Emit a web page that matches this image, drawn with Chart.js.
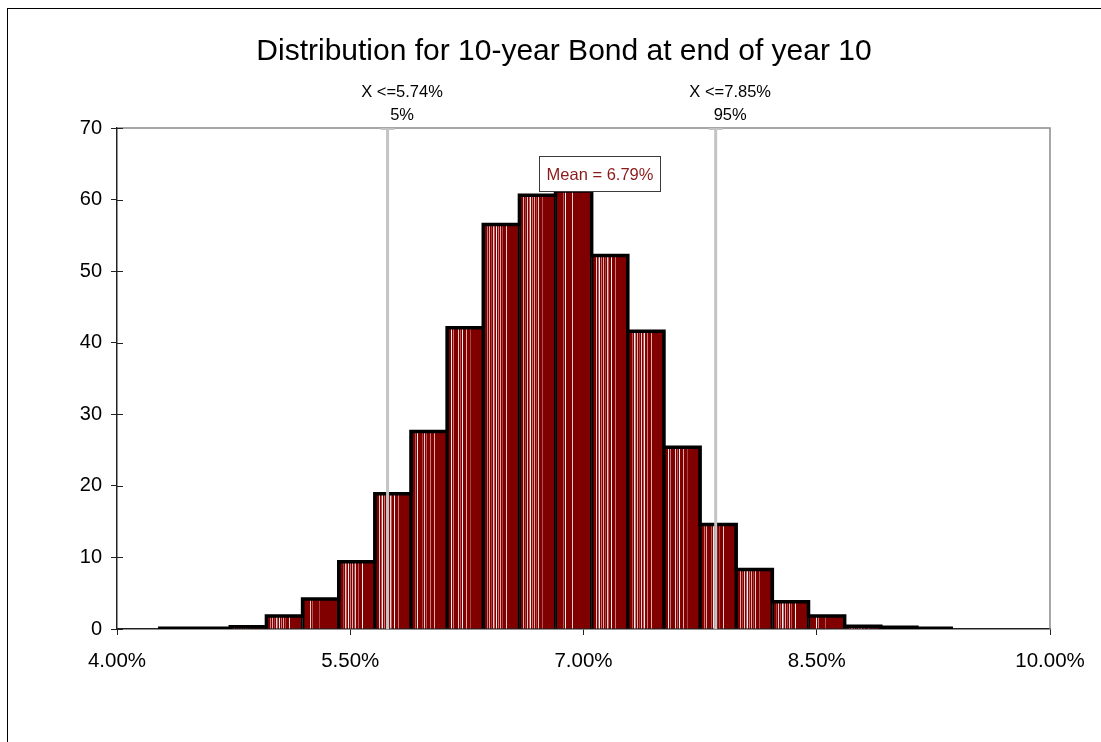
<!DOCTYPE html>
<html>
<head>
<meta charset="utf-8">
<title>Distribution for 10-year Bond at end of year 10</title>
<script src="https://cdn.jsdelivr.net/npm/chart.js@4/dist/chart.umd.min.js"></script>
<style>
  html, body { margin: 0; padding: 0; background: #ffffff; }
  canvas { display: block; }
</style>
</head>
<body>
<canvas id="chart" width="1101" height="742"></canvas>
<script>
// ---- data ----
const chartTitle = 'Distribution for 10-year Bond at end of year 10';

// histogram bin centres (yield, %)
const binCenters = [4.380, 4.612, 4.845, 5.077, 5.310, 5.542, 5.774, 6.007, 6.239, 6.472, 6.704,
                    6.936, 7.169, 7.401, 7.634, 7.866, 8.098, 8.331, 8.563, 8.796, 9.028, 9.260];
// frequency in each bin
const frequencies = [0.1, 0.1, 0.3, 1.8, 4.2, 9.4, 18.9, 27.6, 42.1, 56.5, 60.6,
                     61.2, 52.2, 41.6, 25.4, 14.6, 8.3, 3.8, 1.8, 0.4, 0.25, 0.1];

// x-axis tick values (%), y-axis range
const xTicks = [4.0, 5.5, 7.0, 8.5, 10.0];
const yRange = [0, 70];

// percentile markers
const percentileValues = [5.74, 7.85];
const percentileLabels = ['5%', '95%'];

// mean of the distribution
const meanValue = 6.79;

// ---- styling helpers ----
const FONT = "'Liberation Sans', Arial, Helvetica, sans-serif";
const BAR_RED = '#800000';
const binWidth = binCenters[1] - binCenters[0];
const stripeOffsets = [4, 6, 7.5, 9.5, 11, 13, 15, 16.5, 19, 23];
const stripeColors = ['#f0cccc', '#b45656', '#fbeeee', '#c87878', '#e4aaaa', '#a84444'];

function barFill(context) {
  const chart = context.chart;
  const xs = chart.scales && chart.scales.x;
  if (context.type !== 'data' || !xs) return BAR_RED;
  const c = binCenters[context.dataIndex];
  const x0 = xs.getPixelForValue(c - binWidth / 2);
  const x1 = xs.getPixelForValue(c + binWidth / 2);
  const w = x1 - x0;
  if (!isFinite(w) || w <= 0) return BAR_RED;
  const g = chart.ctx.createLinearGradient(x0, 0, x1, 0);
  g.addColorStop(0, BAR_RED);
  stripeOffsets.forEach((off, i) => {
    const a = off / w;
    const b = (off + 0.8) / w;
    if (b >= 1) return;
    const col = stripeColors[(i + context.dataIndex) % stripeColors.length];
    g.addColorStop(a, BAR_RED);
    g.addColorStop(a, col);
    g.addColorStop(b, col);
    g.addColorStop(b, BAR_RED);
  });
  g.addColorStop(1, BAR_RED);
  return g;
}

// histogram outline: tops of all bins joined with steps at the bin edges
const outlinePoints = [{ x: binCenters[0] - binWidth / 2, y: frequencies[0] }]
  .concat(binCenters.map((c, i) => ({ x: c, y: frequencies[i] })))
  .concat([{ x: binCenters[binCenters.length - 1] + binWidth / 2, y: frequencies[frequencies.length - 1] }]);

// ---- plugins ----
const pageFrame = {
  id: 'pageFrame',
  beforeDraw(chart) {
    const ctx = chart.ctx;
    ctx.save();
    ctx.fillStyle = '#ffffff';
    ctx.fillRect(0, 0, chart.width, chart.height);
    ctx.strokeStyle = '#000000';
    ctx.lineWidth = 1;
    ctx.strokeRect(7.5, 8.5, chart.width + 20, chart.height + 20);
    // chart heading
    ctx.fillStyle = '#000000';
    ctx.font = '30px ' + FONT;
    ctx.textAlign = 'center';
    ctx.textBaseline = 'alphabetic';
    ctx.fillText(chartTitle, 564, 60);
    ctx.restore();
  }
};

const plotBorder = {
  id: 'plotBorder',
  beforeDatasetsDraw(chart) {
    const { ctx, chartArea: a } = chart;
    ctx.save();
    ctx.strokeStyle = '#8a8a8a';
    ctx.lineWidth = 1.5;
    ctx.beginPath();
    ctx.moveTo(a.left, a.top);
    ctx.lineTo(a.right, a.top);
    ctx.lineTo(a.right, a.bottom);
    ctx.stroke();
    ctx.restore();
  },
  afterDraw(chart) {
    // tick marks crossing into the plot on the value axis
    const { ctx, chartArea: a } = chart;
    const ys = chart.scales.y;
    ctx.save();
    ctx.strokeStyle = '#222222';
    ctx.lineWidth = 1;
    ys.ticks.forEach(t => {
      const y = Math.round(ys.getPixelForValue(t.value)) + 0.5;
      ctx.beginPath();
      ctx.moveTo(a.left, y);
      ctx.lineTo(a.left + 6, y);
      ctx.stroke();
    });
    ctx.restore();
  }
};

const markers = {
  id: 'markers',
  afterDatasetsDraw(chart) {
    const { ctx, chartArea: a } = chart;
    const xs = chart.scales.x, ys = chart.scales.y;
    ctx.save();
    // percentile lines and their captions
    percentileValues.forEach((v, i) => {
      const x = xs.getPixelForValue(v);
      ctx.strokeStyle = '#c4c4c4';
      ctx.lineWidth = 3;
      ctx.beginPath();
      ctx.moveTo(x, a.top);
      ctx.lineTo(x, a.bottom);
      ctx.stroke();
      ctx.lineWidth = 2;
      ctx.beginPath();
      ctx.moveTo(x - 7, a.top + 1);
      ctx.lineTo(x + 7, a.top + 1);
      ctx.stroke();

      ctx.fillStyle = '#000000';
      ctx.font = '16.5px ' + FONT;
      ctx.textAlign = 'center';
      ctx.textBaseline = 'middle';
      ctx.fillText('X <=' + v.toFixed(2) + '%', x + 14.5, a.top - 36);
      ctx.fillText(percentileLabels[i], x + 14.5, a.top - 13);
    });

    // mean label sitting on the tallest bin
    const maxFreq = Math.max(...frequencies);
    const boxLeft = Math.round(xs.getPixelForValue(meanValue) - 12) + 0.5;
    const boxBottom = Math.round(ys.getPixelForValue(maxFreq)) + 0.5;
    const boxW = 121, boxH = 35;
    ctx.fillStyle = '#ffffff';
    ctx.fillRect(boxLeft, boxBottom - boxH, boxW, boxH);
    ctx.strokeStyle = '#3a3a3a';
    ctx.lineWidth = 1;
    ctx.strokeRect(boxLeft, boxBottom - boxH, boxW, boxH);
    ctx.fillStyle = '#8b1a1a';
    ctx.font = '16.5px ' + FONT;
    ctx.textAlign = 'center';
    ctx.textBaseline = 'middle';
    ctx.fillText('Mean = ' + meanValue.toFixed(2) + '%', boxLeft + boxW / 2, boxBottom - boxH / 2 + 1);
    ctx.restore();
  }
};

// ---- chart ----
new Chart(document.getElementById('chart'), {
  data: {
    datasets: [
      {
        type: 'line',
        label: 'outline',
        data: outlinePoints,
        stepped: 'middle',
        borderColor: '#000000',
        borderWidth: 3.5,
        borderJoinStyle: 'miter',
        borderCapStyle: 'butt',
        pointRadius: 0,
        fill: false,
        order: 0
      },
      {
        type: 'bar',
        label: 'Frequency',
        data: binCenters.map((c, i) => ({ x: c, y: frequencies[i] })),
        backgroundColor: barFill,
        borderColor: '#000000',
        borderWidth: { left: 2, right: 2, top: 0, bottom: 0 },
        borderSkipped: false,
        barPercentage: 1,
        categoryPercentage: 1,
        grouped: false,
        order: 1
      }
    ]
  },
  options: {
    responsive: false,
    animation: false,
    events: [],
    layout: { padding: { left: 0, right: 51, top: 128, bottom: 0 } },
    plugins: {
      legend: { display: false },
      tooltip: { enabled: false },
      title: { display: false }
    },
    scales: {
      x: {
        type: 'linear',
        position: 'bottom',
        min: xTicks[0],
        max: xTicks[xTicks.length - 1],
        offset: false,
        afterBuildTicks(scale) { scale.ticks = xTicks.map(v => ({ value: v })); },
        afterFit(scale) { scale.height = 113; },
        ticks: {
          color: '#000000',
          font: { family: FONT, size: 20.5 },
          padding: 14,
          maxRotation: 0,
          autoSkip: false,
          callback: v => Number(v).toFixed(2) + '%'
        },
        grid: { display: true, offset: false, drawOnChartArea: false, drawTicks: true, tickLength: 6, color: '#222222', lineWidth: 1 },
        border: { display: true, color: '#222222', width: 1.5 }
      },
      y: {
        type: 'linear',
        min: yRange[0],
        max: yRange[1],
        afterFit(scale) { scale.width = 117; },
        ticks: {
          stepSize: 10,
          color: '#000000',
          font: { family: FONT, size: 20 },
          padding: 9
        },
        grid: { display: true, offset: false, drawOnChartArea: false, drawTicks: true, tickLength: 6, color: '#222222', lineWidth: 1 },
        border: { display: true, color: '#222222', width: 1.5 }
      }
    }
  },
  plugins: [pageFrame, plotBorder, markers]
});
</script>
</body>
</html>
